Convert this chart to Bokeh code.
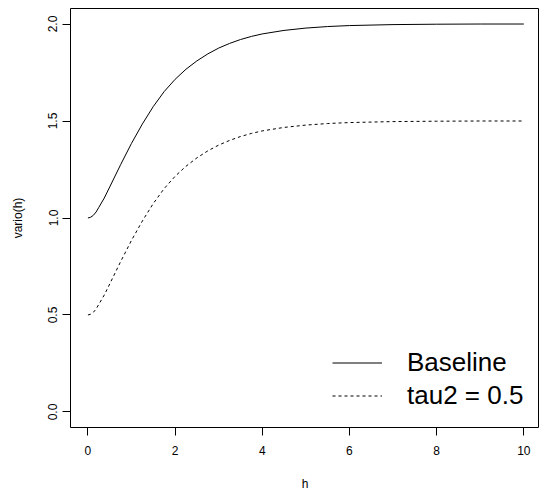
from bokeh.plotting import figure
from bokeh.models import Range1d, FixedTicker, Legend, LegendItem, ColumnDataSource
from bokeh.embed import file_html
from bokeh.resources import INLINE

# Data
h = [0.0, 0.0625, 0.125, 0.1875, 0.25, 0.375, 0.5, 0.75, 1.0, 1.25, 1.5, 1.75, 2.0, 2.25,
     2.5, 2.75, 3.0, 3.25, 3.5, 3.75, 4.0, 4.5, 5.0, 5.5, 6.0, 7.0, 8.0, 9.0, 10.0]
baseline = [1.000, 1.004, 1.014, 1.031, 1.055, 1.103, 1.160, 1.275, 1.385, 1.485, 1.575,
            1.652, 1.715, 1.767, 1.810, 1.846, 1.876, 1.900, 1.920, 1.936, 1.949, 1.967,
            1.979, 1.987, 1.992, 1.997, 1.999, 2.000, 2.000]
tau2 = [0.500, 0.504, 0.514, 0.531, 0.555, 0.603, 0.660, 0.775, 0.885, 0.985, 1.075,
        1.152, 1.215, 1.267, 1.310, 1.346, 1.376, 1.400, 1.420, 1.436, 1.449, 1.467,
        1.479, 1.487, 1.492, 1.497, 1.499, 1.500, 1.500]
x_ticks = [0, 2, 4, 6, 8, 10]
y_ticks = [0.0, 0.5, 1.0, 1.5, 2.0]
series_labels = ["Baseline", "tau2 = 0.5"]

FONT = "Liberation Sans"

p = figure(width=539, height=493, output_backend="svg", toolbar_location=None,
           x_range=Range1d(-0.4, 10.36), y_range=Range1d(-0.08, 2.08),
           min_border_left=70, min_border_right=0, min_border_top=8, min_border_bottom=63)
p.background_fill_color = "white"
p.border_fill_color = "white"
p.outline_line_color = "black"
p.outline_line_width = 1
p.grid.visible = False

src = ColumnDataSource(dict(h=h, baseline=baseline, tau2=tau2))
r1 = p.line("h", "baseline", source=src, line_color="black", line_width=1)
r2 = p.line("h", "tau2", source=src, line_color="black", line_width=1, line_dash="3 3")

for ax in (p.xaxis[0], p.yaxis[0]):
    ax.axis_line_color = None
    ax.major_tick_in = 0
    ax.major_tick_out = 8
    ax.minor_tick_line_color = None
    ax.major_tick_line_color = "black"
    ax.major_label_text_font = FONT
    ax.major_label_text_font_size = "12px"
    ax.major_label_text_color = "black"
    ax.axis_label_text_font = FONT
    ax.axis_label_text_font_size = "12px"
    ax.axis_label_text_font_style = "normal"
    ax.axis_label_text_color = "black"

p.xaxis[0].ticker = FixedTicker(ticks=x_ticks)
p.yaxis[0].ticker = FixedTicker(ticks=y_ticks)
p.yaxis[0].major_label_overrides = {t: f"{t:.1f}" for t in y_ticks}
p.yaxis[0].major_label_orientation = "vertical"
p.xaxis[0].axis_label = "h"
p.yaxis[0].axis_label = "vario(h)"
p.xaxis[0].major_label_standoff = 10
p.yaxis[0].major_label_standoff = 5
p.xaxis[0].axis_label_standoff = 19
p.yaxis[0].axis_label_standoff = 21

legend = Legend(items=[LegendItem(label=series_labels[0], renderers=[r1]),
                       LegendItem(label=series_labels[1], renderers=[r2])],
                location=(262, 15), padding=0, margin=0, spacing=0,
                border_line_color=None, background_fill_alpha=0,
                glyph_width=50, glyph_height=33, label_height=33, label_standoff=25,
                label_text_font=FONT, label_text_font_size="26px",
                label_text_color="black")
p.add_layout(legend)

open("out.html", "w").write(file_html(p, INLINE))
